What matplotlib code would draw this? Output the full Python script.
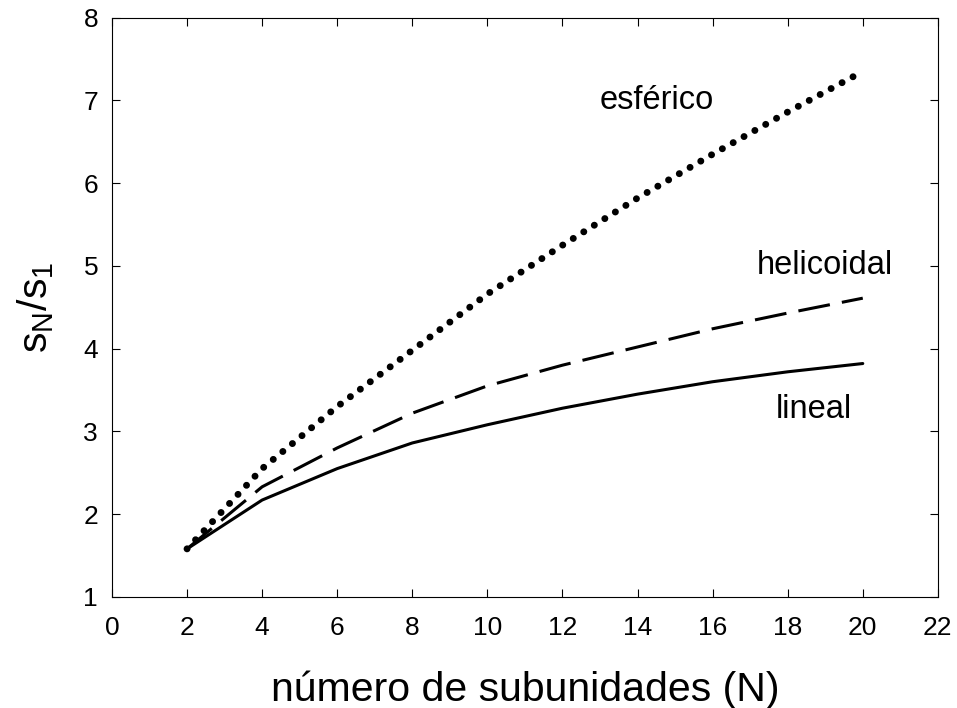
import numpy as np
import matplotlib
matplotlib.use("Agg")
import matplotlib.pyplot as plt

plt.rcParams['font.family'] = ['Liberation Sans', 'DejaVu Sans']
plt.rcParams['mathtext.fontset'] = 'custom'
plt.rcParams['mathtext.rm'] = 'Liberation Sans'
plt.rcParams['mathtext.it'] = 'Liberation Sans'

# subunit counts and sedimentation ratios s_N/s_1
N = [2, 4, 6, 8, 10, 12, 14, 16, 18, 20]
lineal = [1.58, 2.17, 2.55, 2.86, 3.08, 3.28, 3.45, 3.60, 3.72, 3.82]
helicoidal = [1.58, 2.33, 2.80, 3.22, 3.55, 3.80, 4.02, 4.24, 4.43, 4.61]
esferico = [1.58, 2.55, 3.30, 3.98, 4.66, 5.25, 5.82, 6.35, 6.86, 7.35]

fig = plt.figure(figsize=(9.57, 7.08), dpi=100)
ax = fig.add_axes([0.117, 0.157, 0.863, 0.818])

ax.plot(N, lineal, color='black', lw=2.2, solid_capstyle='round')
ax.plot(N, helicoidal, color='black', lw=2.2, dashes=(10.5, 4.0))
ax.plot(N, esferico, color='black', lw=5, dashes=(0.01, 1.78),
        dash_capstyle='round')

ax.text(14.5, 7.0, 'esférico', fontsize=23.5, ha='center', va='center')
ax.text(19.0, 5.0, 'helicoidal', fontsize=23.5, ha='center', va='center')
ax.text(18.7, 3.26, 'lineal', fontsize=23.5, ha='center', va='center')

ax.set_xlim(0, 22)
ax.set_ylim(1, 8)
ax.set_xticks(range(0, 23, 2))
ax.set_yticks(range(1, 9))
ax.tick_params(direction='in', length=6, width=0.8, labelsize=19,
               top=True, right=True)
ax.tick_params(axis='x', pad=14)
ax.tick_params(axis='y', pad=10)
for s in ax.spines.values():
    s.set_linewidth(0.8)

ax.set_xlabel('número de subunidades (N)', fontsize=29.5, labelpad=22)
ax.set_ylabel(r'$\mathregular{s_N/s_1}$', fontsize=29.5, labelpad=20)

fig.savefig('out.png', dpi=100)
